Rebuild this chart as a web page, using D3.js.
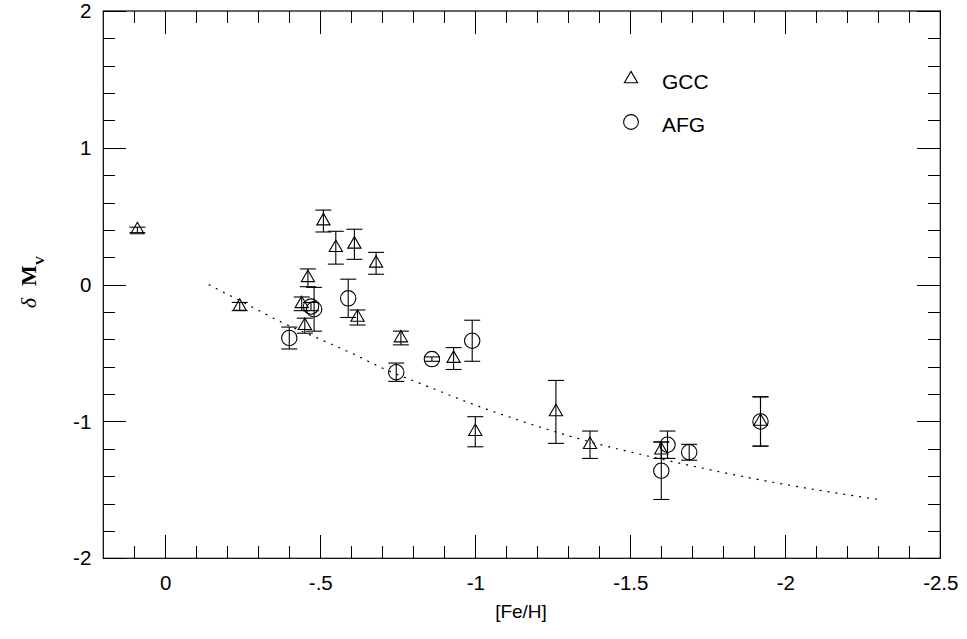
<!DOCTYPE html>
<html>
<head>
<meta charset="utf-8">
<script src="https://cdn.jsdelivr.net/npm/d3@7"></script>
<style>
  html, body { margin: 0; padding: 0; background: #fff; }
  svg { display: block; }
  text { font-family: "Liberation Sans", Arial, sans-serif; fill: #000; }
</style>
</head>
<body>
<svg id="chart" width="967" height="639"></svg>
<script>
// ---- data ----
const gccFeH  = [0.09, -0.24, -0.51, -0.55, -0.61, -0.68, -0.46, -0.44, -0.45, -0.62, -0.76, -0.93, -1.00, -1.26, -1.37, -1.60, -1.92];
const gccDMv  = [0.40, -0.16, 0.465, 0.27, 0.295, 0.156, 0.05, -0.14, -0.30, -0.24, -0.39, -0.54, -1.075, -0.93, -1.17, -1.21, -1.00];
const gccErr  = [0.02, 0.03, 0.08, 0.12, 0.11, 0.08, 0.065, 0.05, 0.055, 0.055, 0.05, 0.08, 0.11, 0.23, 0.10, 0.06, 0.18];

const afgFeH  = [-0.40, -0.47, -0.48, -0.59, -0.745, -0.86, -0.99, -1.62, -1.60, -1.69, -1.92];
const afgDMv  = [-0.39, -0.16, -0.18, -0.10, -0.64, -0.544, -0.41, -1.17, -1.36, -1.225, -1.00];
const afgErr  = [0.08, 0.03, 0.16, 0.14, 0.067, 0.016, 0.15, 0.10, 0.21, 0.058, 0.18];

const curveFeH = [-0.14, -0.26, -0.38, -0.48, -0.60, -0.71, -0.82, -1.00, -1.18, -1.34, -1.63, -1.95, -2.30];
const curveDMv = [0.00, -0.14, -0.28, -0.38, -0.50, -0.62, -0.72, -0.88, -1.02, -1.13, -1.29, -1.44, -1.57];

const xMajor = [0, -0.5, -1, -1.5, -2, -2.5];
const xTickLabels = ["0", "-.5", "-1", "-1.5", "-2", "-2.5"];
const xMinor = [0.1, -0.1, -0.2, -0.3, -0.4, -0.6, -0.7, -0.8, -0.9, -1.1, -1.2, -1.3, -1.4, -1.6, -1.7, -1.8, -1.9, -2.1, -2.2, -2.3, -2.4];
const yMajor = [-2, -1, 0, 1, 2];
const yTickLabels = ["-2", "-1", "0", "1", "2"];
const yMinor = [-1.8, -1.6, -1.4, -1.2, -0.8, -0.6, -0.4, -0.2, 0.2, 0.4, 0.6, 0.8, 1.2, 1.4, 1.6, 1.8];

const legendNames = ["GCC", "AFG"];

// ---- layout ----
const L = 103.3, R = 940.3, T = 11, B = 558.3;
const svg = d3.select("#chart");

const x = d3.scaleLinear().domain([0.2, -2.5]).range([L, R]);
const y = d3.scaleLinear().domain([-2, 2]).range([B, T]);

const majorLen = 23, minorLen = 12;

function addAxis(axisFn, scale, vals, len, transform, labels, pad) {
  const ax = axisFn(scale).tickValues(vals).tickSize(-len).tickSizeOuter(0);
  if (labels) ax.tickFormat((d, i) => labels[i]).tickPadding(pad);
  else ax.tickFormat("");
  const g = svg.append("g").attr("transform", transform).call(ax);
  g.select(".domain").remove();
  g.selectAll(".tick line").attr("stroke", "#000").attr("stroke-width", 1).attr("shape-rendering", "crispEdges");
  g.selectAll(".tick text").style("font-family", '"Liberation Sans", Arial, sans-serif').style("font-size", "20.5px").attr("fill", "#000");
  return g;
}
addAxis(d3.axisBottom, x, xMajor, majorLen, `translate(0,${B})`, xTickLabels, 17);
addAxis(d3.axisBottom, x, xMinor, minorLen, `translate(0,${B})`);
addAxis(d3.axisTop, x, xMajor, majorLen, `translate(0,${T})`);
addAxis(d3.axisTop, x, xMinor, minorLen, `translate(0,${T})`);
addAxis(d3.axisLeft, y, yMajor, majorLen, `translate(${L},0)`, yTickLabels, 12);
addAxis(d3.axisLeft, y, yMinor, minorLen, `translate(${L},0)`);
addAxis(d3.axisRight, y, yMajor, majorLen, `translate(${R},0)`);
addAxis(d3.axisRight, y, yMinor, minorLen, `translate(${R},0)`);

svg.append("rect").attr("x", L).attr("y", T).attr("width", R - L).attr("height", B - T)
  .attr("fill", "none").attr("stroke", "#000").attr("stroke-width", 1.2);

// axis titles
svg.append("text").attr("x", 521).attr("y", 618).attr("text-anchor", "middle")
  .style("font-size", "19px").text("[Fe/H]");

const yl = svg.append("text").attr("transform", "translate(36,282) rotate(-90)")
  .attr("text-anchor", "middle")
  .style("font-family", '"Liberation Serif", "Times New Roman", serif')
  .style("font-size", "22px");
yl.append("tspan").style("font-style", "italic").text("\u03B4");
yl.append("tspan").attr("dx", 12).style("font-weight", "bold").text("M");
yl.append("tspan").attr("baseline-shift", "sub").style("font-size", "13px").style("font-weight", "bold").text("V");

// dotted curve
const curvePts = curveFeH.map((v, i) => [v, curveDMv[i]]);
svg.append("path").datum(curvePts)
  .attr("d", d3.line().x(d => x(d[0])).y(d => y(d[1])).curve(d3.curveMonotoneX))
  .attr("fill", "none").attr("stroke", "#000").attr("stroke-width", 1.2)
  .attr("stroke-dasharray", "2,6");

// error bars
const capHalf = 8;
function errorBars(fe, dm, er) {
  const data = fe.map((v, i) => ({ x: v, y: dm[i], e: er[i] }));
  const g = svg.append("g").attr("stroke", "#000").attr("stroke-width", 1.1);
  g.selectAll("line.v").data(data).join("line").attr("class", "v")
    .attr("x1", d => x(d.x)).attr("x2", d => x(d.x))
    .attr("y1", d => y(d.y + d.e)).attr("y2", d => y(d.y - d.e));
  g.selectAll("line.t").data(data).join("line").attr("class", "t")
    .attr("x1", d => x(d.x) - capHalf).attr("x2", d => x(d.x) + capHalf)
    .attr("y1", d => y(d.y + d.e)).attr("y2", d => y(d.y + d.e));
  g.selectAll("line.b").data(data).join("line").attr("class", "b")
    .attr("x1", d => x(d.x) - capHalf).attr("x2", d => x(d.x) + capHalf)
    .attr("y1", d => y(d.y - d.e)).attr("y2", d => y(d.y - d.e));
  return data;
}
const gccData = errorBars(gccFeH, gccDMv, gccErr);
const afgData = errorBars(afgFeH, afgDMv, afgErr);

const tri = d3.symbol().type(d3.symbolTriangle).size(76);
svg.append("g").selectAll("path").data(gccData).join("path")
  .attr("transform", d => `translate(${x(d.x)},${y(d.y)})`)
  .attr("d", tri).attr("fill", "none").attr("stroke", "#000").attr("stroke-width", 1.1);

svg.append("g").selectAll("circle").data(afgData).join("circle")
  .attr("cx", d => x(d.x)).attr("cy", d => y(d.y)).attr("r", 7.7)
  .attr("fill", "none").attr("stroke", "#000").attr("stroke-width", 1.1);

// legend
const lg = svg.append("g");
lg.append("path").attr("transform", "translate(631,79)").attr("d", tri)
  .attr("fill", "none").attr("stroke", "#000").attr("stroke-width", 1.1);
lg.append("circle").attr("cx", 631).attr("cy", 122).attr("r", 7.4)
  .attr("fill", "none").attr("stroke", "#000").attr("stroke-width", 1.1);
lg.selectAll("text").data(legendNames).join("text")
  .attr("x", 662).attr("y", (d, i) => 88.5 + i * 43)
  .style("font-size", "21px").text(d => d);
</script>
</body>
</html>
